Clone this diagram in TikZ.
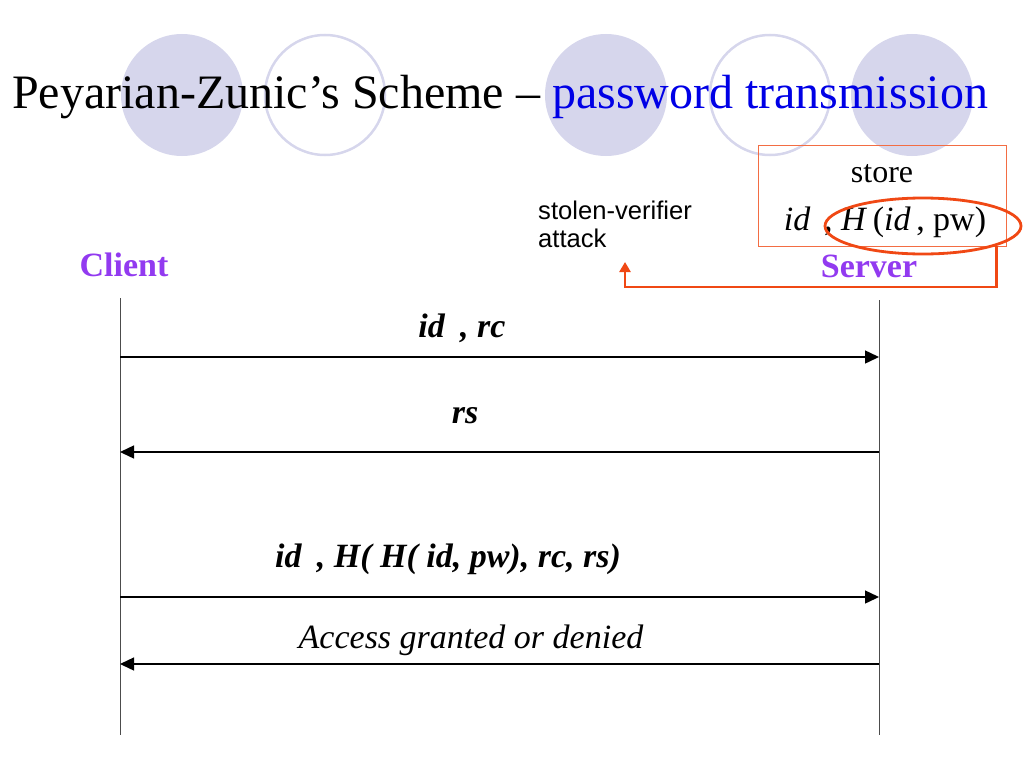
\documentclass[tikz,border=0pt]{standalone}
\usepackage{fontspec}
\setmainfont{Liberation Serif}
\newfontfamily\arialfont{Liberation Sans}
\usetikzlibrary{shapes.geometric,arrows.meta,positioning}
\definecolor{lavender}{RGB}{214,214,236}
\definecolor{partypurple}{RGB}{146,58,240}
\definecolor{attackred}{RGB}{240,72,20}
\definecolor{titleblue}{RGB}{0,0,230}
\def\lbl#1#2#3#4{\node[#4] (#1) at (#2) {#3}}
\tikzstyle{disc}=[circle,fill=lavender,minimum size=122pt,inner sep=0pt]
\tikzstyle{ring}=[circle,draw=lavender,line width=2.5pt,minimum size=120pt,inner sep=0pt]
\tikzstyle{who}=[text=partypurple,font=\fontsize{34}{40}\selectfont\bfseries,anchor=base,inner sep=0pt]
\tikzstyle{life}=[draw=black!70,line width=1pt]
\tikzstyle{msgline}=[line width=1.4pt,-{Triangle[length=14pt,width=13pt]}]
\tikzstyle{msglbl}=[font=\fontsize{34}{40}\selectfont\bfseries\itshape,anchor=base,inner sep=0pt]
\tikzstyle{reply}=[font=\fontsize{34}{40}\selectfont\itshape,anchor=base,inner sep=0pt]
\tikzstyle{storebox}=[draw=attackred!80,line width=1pt,minimum width=248pt,minimum height=101pt,inner sep=0pt]
\tikzstyle{verif}=[ellipse,draw=attackred,line width=2.8pt,minimum width=196pt,minimum height=56pt,inner sep=0pt]
\tikzstyle{attackline}=[draw=attackred,line width=2.8pt,-{Triangle[length=10pt,width=11pt]}]

\begin{document}
\begin{tikzpicture}[x=1pt,y=1pt]
  \useasboundingbox (0,0) rectangle (1024,-768);
  % circles behind the title
  \foreach \cx/\kind [count=\i] in {182/disc,325/ring,606/disc,770/ring,912/disc}
    \node[\kind] (deco\i) at (\cx,-95) {};
  \node[anchor=base west,inner sep=0pt,font=\fontsize{48}{56}\selectfont] (title) at (12,-108)
    {Peyarian-Zunic’s Scheme – \textcolor{titleblue}{password transmission}};

  % what the server keeps
  \node[storebox] (store) at (882,-195.5) {};
  \node[anchor=base,inner sep=0pt,font=\fontsize{32}{38}\selectfont] (storeword) at (882,-182) {store};
  \node[anchor=base,inner sep=0pt,font=\fontsize{34}{40}\selectfont] (stored) at (885,-230)
    {\textit{id}\hspace{0.4em}, \textit{H}\,(\textit{id}\,, pw)};
  \node[verif] (verif) at (923,-226) {};
  \node[anchor=north west,inner sep=0pt,align=left,font=\arialfont\fontsize{25.6}{28}\selectfont] (stolen) at (538,-201)
    {stolen-verifier\\attack};
  \coordinate (turn) at (625,-287);
  \coordinate (hit) at (625,-262);
  \draw[attackline] (verif.-15) |- (turn) -- (hit);

  % the two parties
  \node[who] (client) at (124,-276) {Client};
  \node[who] (server) at (869,-277) {Server};
  \coordinate (ctop) at (120,-298);
  \coordinate (cbot) at (120,-735);
  \coordinate (stop) at (879,-300);
  \coordinate (sbot) at (879,-735);
  \draw[life] (ctop) -- (cbot);
  \draw[life] (stop) -- (sbot);

  % messages
  \foreach \n/\y in {1/357,2/452,3/597,4/664} {
    \coordinate (c\n) at (120,-\y);
    \coordinate (s\n) at (879,-\y);
  }
  \draw[msgline] (c1) -- (s1);
  \draw[msgline] (s2) -- (c2);
  \draw[msgline] (c3) -- (s3);
  \draw[msgline] (s4) -- (c4);
  \lbl{m1}{462,-337}{id\hspace{0.45em}, rc}{msglbl};
  \lbl{m2}{465,-423}{rs}{msglbl};
  \lbl{m3}{448,-567}{id\hspace{0.45em}, H( H( id, pw), rc, rs)}{msglbl};
  \lbl{m4}{471,-648}{Access granted or denied}{reply};
\end{tikzpicture}
\end{document}
